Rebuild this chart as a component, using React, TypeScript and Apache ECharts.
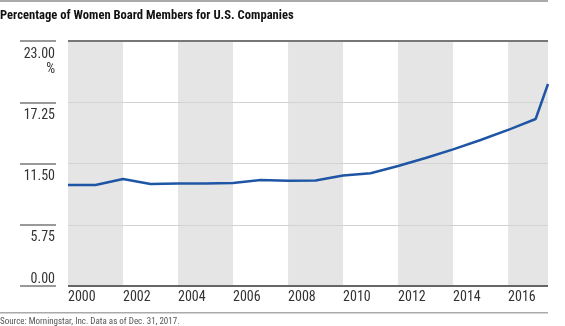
import React, { useEffect, useRef } from "react";
import * as echarts from "echarts";

const years = [2000, 2001, 2002, 2003, 2004, 2005, 2006, 2007, 2008, 2009, 2010, 2011, 2012, 2013, 2014, 2015, 2016, 2017, 2017.45];
const pctWomen = [9.48, 9.48, 10.05, 9.58, 9.62, 9.62, 9.67, 9.95, 9.89, 9.9, 10.37, 10.58, 11.27, 12.02, 12.83, 13.71, 14.65, 15.68, 18.96];
const yTicks = [0, 5.75, 11.5, 17.25, 23];
const xMin = 2000;
const xMax = 2017.45;
const titleText = "Percentage of Women Board Members for U.S. Companies";
const sourceText = "Source: Morningstar, Inc. Data as of Dec. 31, 2017.";

const FONT = "Roboto Condensed, Liberation Sans Narrow, Liberation Sans, sans-serif";

export default function App() {
  const ref = useRef<HTMLDivElement>(null);
  useEffect(() => {
    if (!ref.current) return;
    const chart = echarts.init(ref.current, undefined, { renderer: "svg" });
    const yMin = yTicks[0];
    const yMax = yTicks[yTicks.length - 1];
    const yInt = yTicks[1] - yTicks[0];
    const gridLineData = yTicks.map((v) => {
      const edge = v === yMin || v === yMax;
      return {
        yAxis: v,
        lineStyle: {
          color: v === yMin ? "#666" : v === yMax ? "#777" : "#d2d2d2",
          width: edge ? 2 : 1,
          type: "solid",
        },
      };
    });
    chart.setOption({
      animation: false,
      textStyle: { fontFamily: FONT },
      title: {
        text: titleText,
        left: 0,
        top: 8,
        padding: 0,
        textStyle: { fontFamily: FONT, fontSize: 12.6, fontWeight: "bold", color: "#111" },
      },
      graphic: {
        elements: [
          { type: "rect", left: 0, top: 0, z: 100, shape: { width: 548, height: 2 }, style: { fill: "#aaa" } },
          { type: "rect", left: 0, top: 312, z: 100, shape: { width: 548, height: 1.5 }, style: { fill: "#aaa" } },
          {
            type: "text",
            left: 0,
            top: 316,
            style: { text: sourceText, fontFamily: FONT, fontSize: 9, fill: "#555" },
          },
        ],
      },
      grid: { left: 68, right: 17, top: 41, bottom: 40, containLabel: false },
      xAxis: [
        {
          type: "value",
          min: xMin,
          max: xMax,
          interval: 2,
          axisLine: { show: false },
          axisTick: { show: false },
          splitLine: { show: false },
          splitArea: { show: true, areaStyle: { color: ["#e5e5e5", "#ffffff"] } },
          axisLabel: {
            showMaxLabel: false,
            align: "left",
            margin: 3,
            fontSize: 14,
            color: "#333",
            fontFamily: FONT,
            formatter: (v: number) => (Number.isInteger(v) ? String(v) : ""),
          },
        },
      ],
      yAxis: [
        {
          type: "value",
          min: yMin,
          max: yMax,
          interval: yInt,
          axisLine: { show: false },
          axisTick: { show: false },
          axisLabel: { show: false },
          splitLine: { show: false },
        },
        {
          type: "value",
          min: yMin,
          max: yMax,
          interval: yInt,
          position: "left",
          offset: 12,
          splitLine: { show: false },
          splitArea: { show: false },
          axisLine: { show: true, lineStyle: { color: "#ffffff", width: 1 } },
          axisTick: { show: true, inside: false, length: 36, lineStyle: { color: "#777", width: 1.5 } },
          axisLabel: {
            align: "right",
            verticalAlign: "top",
            margin: 1,
            padding: [4, 0, 0, 0],
            fontSize: 14,
            lineHeight: 15,
            color: "#333",
            fontFamily: FONT,
            formatter: (v: number) => (v === yMin ? "" : v === yMax ? v.toFixed(2) + "\n%" : v.toFixed(2)),
          },
        },
        {
          type: "value",
          min: yMin,
          max: yMax,
          interval: yInt,
          position: "left",
          offset: 12,
          splitLine: { show: false },
          splitArea: { show: false },
          axisLine: { show: false },
          axisTick: { show: false },
          axisLabel: {
            align: "right",
            verticalAlign: "bottom",
            margin: 1,
            padding: [0, 0, 1, 0],
            fontSize: 14,
            color: "#333",
            fontFamily: FONT,
            formatter: (v: number) => (v === yMin ? v.toFixed(2) : ""),
          },
        },
      ],
      series: [
        {
          type: "line",
          xAxisIndex: 0,
          yAxisIndex: 0,
          data: years.map((y, i) => [y, pctWomen[i]]),
          showSymbol: false,
          lineStyle: { color: "#1f55a5", width: 2.5 },
          z: 5,
          markLine: {
            silent: true,
            symbol: ["none", "none"],
            label: { show: false },
            animation: false,
            data: gridLineData,
          },
        },
      ],
    });
    return () => chart.dispose();
  }, []);
  return <div ref={ref} style={{ position: "fixed", left: 0, top: 0, width: 565, height: 326 }} />;
}
